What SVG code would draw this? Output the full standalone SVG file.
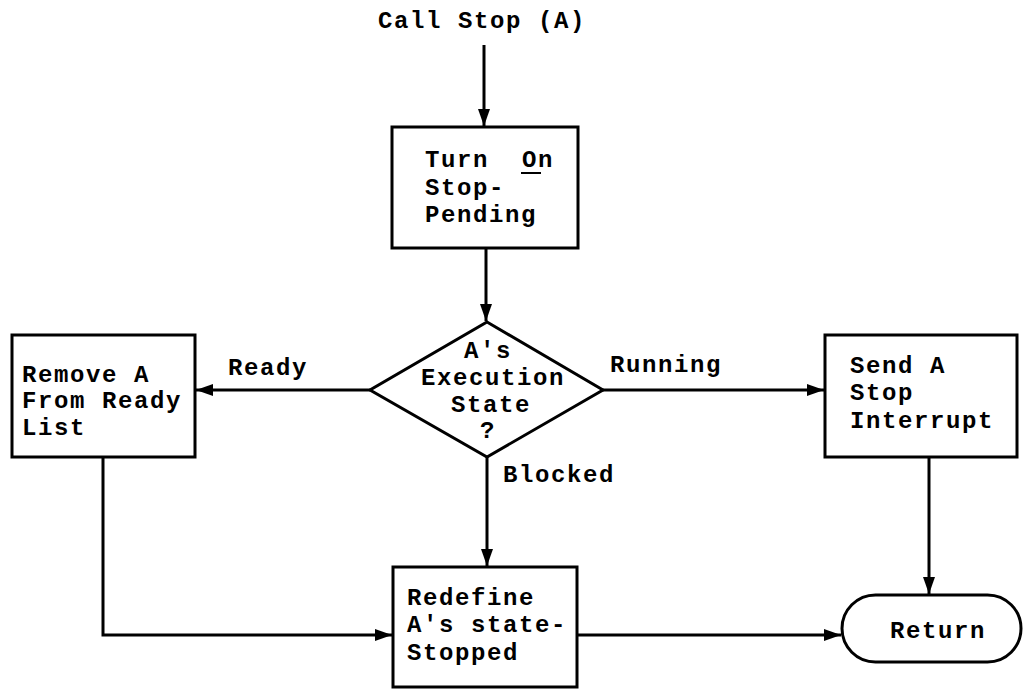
<svg xmlns="http://www.w3.org/2000/svg" width="1023" height="691" viewBox="0 0 1023 691">
<defs>
<marker id="ah" markerUnits="userSpaceOnUse" markerWidth="20" markerHeight="14" refX="17" refY="6" orient="auto">
<path d="M0,0 L17,6 L0,12 z" fill="#000"/>
</marker>
<style>
.t{font-family:"Liberation Mono","Courier New",monospace;font-size:24px;letter-spacing:1.6px;fill:#000;font-weight:bold}
.b{fill:#fff;stroke:#000;stroke-width:3}
.c{fill:none;stroke:#000;stroke-width:3;marker-end:url(#ah)}
</style>
</defs>
<rect width="1023" height="691" fill="#fff"/>
<g id="connectors">
<line class="c" x1="484" y1="45" x2="484" y2="126"/>
<line class="c" x1="486" y1="248" x2="486" y2="321"/>
<line class="c" x1="370" y1="390" x2="196" y2="390"/>
<line class="c" x1="602" y1="390" x2="824" y2="390"/>
<line class="c" x1="487" y1="457" x2="487" y2="566"/>
<polyline class="c" points="103,457 103,635 392,635"/>
<line class="c" x1="929" y1="457" x2="929" y2="594"/>
<line class="c" x1="577" y1="635" x2="841" y2="635"/>
<text class="t" x="228" y="375">Ready</text>
<text class="t" x="610" y="372">Running</text>
<text class="t" x="503" y="482">Blocked</text>
</g>
<g id="start">
<text class="t" x="378" y="28">Call Stop (A)</text>
</g>
<g id="turn-on">
<rect class="b" x="392" y="127" width="186" height="121"/>
<text class="t" x="425" y="167">Turn<tspan x="522">On</tspan></text>
<line x1="521" y1="173" x2="541" y2="173" stroke="#000" stroke-width="2"/>
<text class="t" x="425" y="195">Stop-</text>
<text class="t" x="425" y="222">Pending</text>
</g>
<g id="decision">
<polygon class="b" points="487,322 603,390 487,457 370,390"/>
<text class="t" x="488" y="358" text-anchor="middle">A's</text>
<text class="t" x="493" y="385" text-anchor="middle">Execution</text>
<text class="t" x="491" y="412" text-anchor="middle">State</text>
<text class="t" x="488" y="438" text-anchor="middle">?</text>
</g>
<g id="remove">
<rect class="b" x="12" y="335" width="183" height="122"/>
<text class="t" x="22" y="382">Remove A</text>
<text class="t" x="22" y="408">From Ready</text>
<text class="t" x="22" y="435">List</text>
</g>
<g id="send">
<rect class="b" x="825" y="335" width="192" height="122"/>
<text class="t" x="850" y="373">Send A</text>
<text class="t" x="850" y="400">Stop</text>
<text class="t" x="850" y="428">Interrupt</text>
</g>
<g id="redefine">
<rect class="b" x="393" y="567" width="184" height="120"/>
<text class="t" x="407" y="605">Redefine</text>
<text class="t" x="407" y="632">A's state-</text>
<text class="t" x="407" y="660">Stopped</text>
</g>
<g id="return">
<rect class="b" x="842" y="595" width="179" height="67" rx="33.5" ry="33.5"/>
<text class="t" x="890" y="638">Return</text>
</g>
</svg>
